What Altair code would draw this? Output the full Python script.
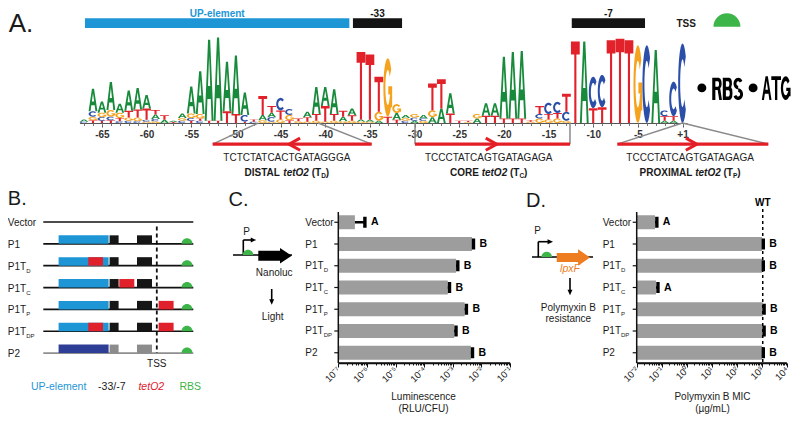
import altair as alt
import numpy as np
import pandas as pd

FONT = "Liberation Sans"
INK = "#1a1a1a"
RED = "#e0202a"
BLUE = "#1e96d6"
GREEN = "#3db549"
ORANGE = "#ee7d22"

# ============================ PANEL A : sequence logo ============================
LOGO_POSITIONS = list(range(-67, 0)) + [1]
LOGO_COLUMNS = [
    [("A", .05), ("C", .03)],
    [("A", .50), ("C", .12), ("G", .08), ("T", .06)],
    [("A", .25), ("G", .10), ("C", .08), ("T", .05)],
    [("A", .62), ("G", .15), ("C", .08), ("T", .06)],
    [("A", .20), ("G", .12), ("T", .07), ("C", .04)],
    [("A", .45), ("T", .15), ("G", .07), ("C", .05)],
    [("A", .48), ("T", .18), ("G", .08), ("C", .04)],
    [("A", .30), ("T", .25), ("C", .04), ("G", .03)],
    [("A", .10), ("T", .10), ("C", .05), ("G", .04)],
    [("T", .10), ("A", .07)],
    [("A", .03), ("T", .02)],
    [("A", .10), ("G", .06), ("C", .05)],
    [("A", .60), ("G", .10), ("C", .06), ("T", .05)],
    [("A", .95), ("G", .10), ("C", .05), ("T", .05)],
    [("A", 1.80), ("T", .05)],
    [("A", 1.85), ("T", .05)],
    [("A", 1.10), ("T", .26)],
    [("A", 1.30), ("T", .20)],
    [("A", .50), ("C", .15), ("T", .03)],
    [("T", .05), ("C", .03)],
    [("T", .42), ("A", .12), ("G", .06)],
    [("T", .15), ("C", .10), ("A", .10), ("G", .03)],
    [("C", .28), ("T", .20), ("G", .08)],
    [("C", .13), ("G", .12), ("T", .06)],
    [("T", .06), ("G", .04)],
    [("A", .12), ("T", .10), ("G", .03)],
    [("A", .60), ("T", .15), ("G", .05)],
    [("A", .42), ("T", .35), ("G", .03)],
    [("A", .55), ("T", .15), ("G", .05)],
    [("T", .13), ("A", .10), ("G", .04)],
    [("A", .15), ("T", .12), ("G", .05)],
    [("T", 1.50), ("A", .05), ("G", .03)],
    [("T", 1.45), ("A", .04), ("G", .03)],
    [("T", .78), ("G", .20), ("A", .05)],
    [("G", 1.30), ("T", .14)],
    [("G", .20), ("A", .15), ("T", .07)],
    [("A", .07), ("G", .06), ("C", .05)],
    [("G", .08), ("C", .07), ("A", .05)],
    [("A", .08), ("G", .05), ("C", .05)],
    [("T", .60), ("G", .15), ("A", .13)],
    [("T", .65), ("A", .32)],
    [("A", .45), ("T", .21)],
    [("T", .05)],
    [("T", .03), ("G", .02)],
    [("A", .10), ("G", .10)],
    [("A", .28), ("T", .16)],
    [("A", .28), ("T", .16)],
    [("A", 1.37), ("T", .10)],
    [("A", 1.48), ("T", .10)],
    [("A", 1.50), ("T", .10)],
    [("G", .03), ("T", .03)],
    [("T", .18), ("G", .10), ("C", .10)],
    [("C", .25), ("T", .12), ("G", .08)],
    [("C", .25), ("T", .12), ("G", .10)],
    [("T", .40), ("C", .20), ("G", .05)],
    [("T", 1.81)],
    [("A", 1.81)],
    [("C", .70), ("T", .33)],
    [("C", .72), ("T", .35)],
    [("T", 1.84)],
    [("T", 1.87)],
    [("T", 1.84)],
    [("G", 1.73)],
    [("C", 1.73)],
    [("A", 1.62)],
    [("C", .13), ("T", .10), ("A", .05)],
    [("C", .77), ("T", .10), ("A", .05)],
    [("C", 1.77)],
]
assert len(LOGO_COLUMNS) == len(LOGO_POSITIONS)
NUCLEOTIDES = ["A", "C", "G", "T"]
NUC_COLORS = ["#178a3b", "#2b4ea8", "#f5a31f", "#e2222a"]
LOGO_TICK_POSITIONS = [-65, -60, -55, -50, -45, -40, -35, -30, -25, -20, -15, -10, -5, 1]

# annotation tracks above the logo (in logo-slot units)
TOP_LABELS = ["UP-element", "-33", "-7"]
TOP_FROM = [0.1, 30.1, 54.6]
TOP_TO = [29.7, 35.6, 62.8]
TOP_COLORS = [BLUE, "#141414", "#141414"]

# tetO2 operators under the logo
OP_NAMES = ["DISTAL", "CORE", "PROXIMAL"]
OP_SUBS = ["D", "C", "P"]
OP_SEQS = ["TCTCTATCACTGATAGGGA", "TCCCTATCAGTGATAGAGA", "TCCCTATCAGTGATAGAGA"]
OP_FROM = [14.4, 37.05, 59.7]
OP_TO = [32.2, 54.4, 76.6]
OP_TIP = [22.95, 46.2, 68.6]
OP_DIR = ["left", "right", "right"]
OP_CENTER = [22.7, 45.3, 67.85]
OP_FOOT_FROM = [19.5, 37.05, 67.0]
OP_FOOT_TO = [26.2, 54.4, 67.0]

# "• RBS • ATG" to the right of the logo
RBS_LETTERS = ["R", "B", "S", "A", "T", "G"]
RBS_LETTER_SLOTS = [70.87, 72.05, 73.23, 76.42, 77.48, 78.55]
RBS_LETTER_W = [10.0, 10.0, 10.0, 9.4, 9.4, 9.4]
RBS_DOT_SLOTS = [69.16, 74.9]

# layout of panel A
A_X_DOMAIN = [-0.5, 67.5]
A_X_RANGE = [71.6, 679.0]
A_Y_DOMAIN = [0, 2]
A_Y_RANGE = [115, 25]
SLOT_PX = (A_X_RANGE[1] - A_X_RANGE[0]) / (A_X_DOMAIN[1] - A_X_DOMAIN[0])
BIT_PX = (A_Y_RANGE[0] - A_Y_RANGE[1]) / (A_Y_DOMAIN[1] - A_Y_DOMAIN[0])
GLYPH_W = 8.8
TRACK_Y = [2.11, 2.33]
TRACK_LABEL_Y = 2.42
RAIL_Y = -0.47
SEQ_Y = -0.785
NAME_Y = -1.10
RBS_BASE_BITS = 0.51
RBS_LETTER_H = 23.0
RBS_DOT_BITS = 0.78

BOLD_W = {"D": 722, "I": 278, "S": 667, "T": 611, "A": 722, "L": 611, " ": 278, "t": 333, "e": 556,
          "O": 778, "2": 556, "(": 333, ")": 333, "C": 722, "R": 722, "E": 667, "P": 667, "X": 667, "M": 833}
REG_W = {"P": 667, "1": 556, "T": 611}


def text_w(s, size, table):
    return sum(table.get(c, 600) for c in s) / 1000.0 * size


def ring_poly(cx, cy, ro, ri, a0, a1, n=20):
    th = np.radians(np.linspace(a0, a1, n))
    outer = [(cx + ro[0] * np.cos(t), cy + ro[1] * np.sin(t)) for t in th]
    inner = [(cx + ri[0] * np.cos(t), cy + ri[1] * np.sin(t)) for t in th[::-1]]
    return outer + inner


def rect_poly(u0, v0, u1, v1):
    return [(u0, v0), (u1, v0), (u1, v1), (u0, v1)]


# glyph outlines in a unit box (u right, v up); second item marks holes
GLYPHS = {
    "A": [([(0, 0), (0.22, 0), (0.31, 0.27), (0.69, 0.27), (0.78, 0), (1, 0), (0.62, 1), (0.38, 1)], False),
          ([(0.37, 0.43), (0.5, 0.8), (0.63, 0.43)], True)],
    "T": [([(0, 1), (0, 0.84), (0.38, 0.84), (0.38, 0), (0.62, 0), (0.62, 0.84), (1, 0.84), (1, 1)], False)],
    "C": [(ring_poly(0.5, 0.5, (0.5, 0.5), (0.27, 0.3), 42, 318), False)],
    "G": [(ring_poly(0.5, 0.5, (0.5, 0.5), (0.27, 0.3), 38, 335), False),
          (rect_poly(0.56, 0.38, 1, 0.52), False), (rect_poly(0.78, 0.16, 1, 0.52), False)],
    "R": [([(0, 0), (0, 1), (0.66, 1), (0.84, 0.95), (0.94, 0.85), (0.97, 0.72), (0.93, 0.61), (0.82, 0.53),
            (1, 0), (0.72, 0), (0.56, 0.45), (0.32, 0.45), (0.32, 0)], False),
          ([(0.32, 0.6), (0.6, 0.6), (0.68, 0.64), (0.7, 0.72), (0.68, 0.8), (0.6, 0.84), (0.32, 0.84)], True)],
    "B": [([(0, 0), (0, 1), (0.66, 1), (0.84, 0.95), (0.93, 0.85), (0.94, 0.7), (0.86, 0.57), (0.97, 0.47),
            (1, 0.3), (0.96, 0.13), (0.82, 0.03), (0.66, 0)], False),
          ([(0.32, 0.6), (0.58, 0.6), (0.66, 0.65), (0.68, 0.72), (0.66, 0.79), (0.58, 0.84), (0.32, 0.84)], True),
          ([(0.32, 0.16), (0.62, 0.16), (0.7, 0.21), (0.72, 0.3), (0.7, 0.39), (0.62, 0.44), (0.32, 0.44)], True)],
    "S": [(ring_poly(0.5, 0.74, (0.48, 0.26), (0.18, 0.1), 25, 270), False),
          (ring_poly(0.5, 0.26, (0.5, 0.26), (0.2, 0.1), -160, 90), False)],
}


def oriented(poly, ccw):
    area = 0.5 * sum(x0 * y1 - x1 * y0 for (x0, y0), (x1, y1) in zip(poly, poly[1:] + poly[:1]))
    return poly if (area > 0) == ccw else poly[::-1]


def glyph_path(letter, h_px, w_px):
    hh = h_px / (w_px / 2.0)
    parts = []
    for poly, hole in GLYPHS[letter]:
        pts = ["%.3f,%.3f" % (2 * u - 1, -v * hh) for u, v in oriented(list(poly), not hole)]
        parts.append("M" + " L".join(pts) + " Z")
    return " ".join(parts)


glyph_rows = []
for slot, col in enumerate(LOGO_COLUMNS):
    y0 = 0.0
    for letter, h in sorted(col, key=lambda t: t[1]):
        glyph_rows.append({"slot": slot, "y0": y0, "path": glyph_path(letter, h * BIT_PX, GLYPH_W),
                           "col": NUC_COLORS[NUCLEOTIDES.index(letter)]})
        y0 += h
logo_df = pd.DataFrame(glyph_rows)

xA = alt.Scale(domain=A_X_DOMAIN, range=A_X_RANGE, nice=False, zero=False)
yA = alt.Scale(domain=A_Y_DOMAIN, range=A_Y_RANGE, nice=False, zero=False)


def XA(f, axis=None):
    return alt.X(f, type="quantitative", scale=xA, axis=axis)


def YA(f, axis=None):
    return alt.Y(f, type="quantitative", scale=yA, axis=axis)


tick_slots = [LOGO_POSITIONS.index(p) for p in LOGO_TICK_POSITIONS]
last_slot = len(LOGO_POSITIONS) - 1
a_x_axis = alt.Axis(orient="bottom", offset=A_Y_RANGE[0] - 407, values=tick_slots,
                    labelExpr="datum.value == %d ? '+1' : '' + (datum.value - %d)" % (last_slot, last_slot),
                    tickSize=4, labelFontSize=10, labelFontWeight="bold", labelColor="#333", labelFont=FONT,
                    domainColor="#555", tickColor="#555", labelPadding=2, grid=False, title=None,
                    labelFlush=False, labelOverlap=False)
a_x_minor = alt.Axis(orient="bottom", offset=A_Y_RANGE[0] - 407, values=list(range(len(LOGO_POSITIONS))),
                     labels=False, domain=False, tickSize=2.5, tickColor="#777", grid=False, title=None)
a_y_axis = alt.Axis(orient="left", offset=-(A_X_RANGE[0] + 0.4), values=[0, 1, 2], format=".1f", tickSize=4,
                    labelFontSize=10, labelFontWeight="bold", labelColor="#333", labelFont=FONT,
                    domainColor="#555", tickColor="#555", grid=False, title="bits", titleFontSize=9,
                    titleFontWeight="normal", titleColor="#333", titleFont=FONT, titleX=-30, titleY=70,
                    titleAngle=270, titleAlign="center", titleBaseline="middle")

glyphs = alt.Chart(logo_df).mark_point(filled=True, opacity=1, strokeWidth=0, size=GLYPH_W ** 2).encode(
    x=XA("slot", a_x_axis), y=YA("y0", a_y_axis),
    shape=alt.Shape("path:N", scale=None), fill=alt.Fill("col:N", scale=None))
minor_a = alt.Chart(pd.DataFrame({"slot": list(range(len(LOGO_POSITIONS))), "z": 0})).mark_point(opacity=0).encode(
    x=XA("slot", a_x_minor), y=YA("z"))

top_df = pd.DataFrame({"label": TOP_LABELS, "x0": TOP_FROM, "x1": TOP_TO, "col": TOP_COLORS,
                       "y0": TRACK_Y[0], "y1": TRACK_Y[1], "ly": TRACK_LABEL_Y,
                       "cx": [(a + b) / 2 for a, b in zip(TOP_FROM, TOP_TO)]})
top_bars = alt.Chart(top_df).mark_rect().encode(
    x=XA("x0"), x2="x1:Q", y=YA("y0"), y2="y1:Q", color=alt.Color("col:N", scale=None))
top_text = alt.Chart(top_df).mark_text(font=FONT, fontSize=10, fontWeight="bold", baseline="middle").encode(
    x=XA("cx"), y=YA("ly"), text="label:N", color=alt.Color("col:N", scale=None))

TSS_SLOT, TSS_BITS = 67.4, 2.19
SEMI_SLOT, SEMI_BITS = 71.97, 2.14
SEMI_PATH = "M-1,0 A1,1 0 0 1 1,0 Z"
tss_df = pd.DataFrame({"x": [TSS_SLOT], "y": [TSS_BITS], "t": ["TSS"], "sx": [SEMI_SLOT], "sy": [SEMI_BITS]})
tss_text = alt.Chart(tss_df).mark_text(font=FONT, fontSize=10, fontWeight="bold", color=INK).encode(
    x=XA("x"), y=YA("y"), text="t:N")
tss_semi = alt.Chart(tss_df).mark_point(shape=SEMI_PATH, filled=True, opacity=1, strokeWidth=0, size=27 ** 2,
                                        color=GREEN).encode(x=XA("sx"), y=YA("sy"))

rbs_df = pd.DataFrame({"x": RBS_LETTER_SLOTS, "y": RBS_BASE_BITS,
                       "path": [glyph_path(l, RBS_LETTER_H, w) for l, w in zip(RBS_LETTERS, RBS_LETTER_W)]})
rbs_word = alt.Chart(rbs_df).mark_point(filled=True, opacity=1, strokeWidth=0, size=9.7 ** 2, color="#000").encode(
    x=XA("x"), y=YA("y"), shape=alt.Shape("path:N", scale=None))
rbs_dots = alt.Chart(pd.DataFrame({"x": RBS_DOT_SLOTS, "y": RBS_DOT_BITS})).mark_point(
    shape="circle", filled=True, opacity=1, size=80, color="#000").encode(x=XA("x"), y=YA("y"))

op_df = pd.DataFrame({"x0": OP_FROM, "x1": OP_TO, "ry": RAIL_Y, "tip": OP_TIP,
                      "path": ["M1,-0.55 L0,0 L1,0.55" if d == "left" else "M-1,-0.55 L0,0 L-1,0.55" for d in OP_DIR],
                      "c": OP_CENTER, "seq": OP_SEQS, "sy": SEQ_Y})
foot_df = pd.DataFrame({"x": OP_FROM + OP_TO, "y": RAIL_Y, "x2": OP_FOOT_FROM + OP_FOOT_TO, "y2": 0.0})
connectors = alt.Chart(foot_df).mark_rule(color="#8a8a8a", strokeWidth=1.5).encode(
    x=XA("x"), y=YA("y"), x2="x2:Q", y2="y2:Q")
rails = alt.Chart(op_df).mark_rule(color="#e41e26", strokeWidth=3.2).encode(x=XA("x0"), x2="x1:Q", y=YA("ry"))
chevrons = alt.Chart(op_df).mark_point(filled=False, opacity=1, strokeWidth=3, size=484, color="#e41e26").encode(
    x=XA("tip"), y=YA("ry"), shape=alt.Shape("path:N", scale=None))
seq_text = alt.Chart(op_df).mark_text(font=FONT, fontSize=10, color="#222").encode(
    x=XA("c"), y=YA("sy"), text="seq:N")

seg_rows = []
for name, sub, c in zip(OP_NAMES, OP_SUBS, OP_CENTER):
    segs = [(name, 10, "b"), (" ", 10, None), ("tetO2", 10, "bi"), (" ", 10, None), ("(T", 10, "b"),
            (sub, 6.5, "sub"), (")", 10, "b")]
    widths = [text_w(t, s, BOLD_W) for t, s, _ in segs]
    acc = -sum(widths) / 2.0
    for (t, s, kind), w in zip(segs, widths):
        if kind:
            seg_rows.append({"x": c + acc / SLOT_PX, "y": NAME_Y, "t": t, "kind": kind})
        acc += w
seg_df = pd.DataFrame(seg_rows)
name_b = alt.Chart(seg_df).transform_filter("datum.kind == 'b'").mark_text(
    font=FONT, fontSize=10, fontWeight="bold", align="left", color=INK).encode(x=XA("x"), y=YA("y"), text="t:N")
name_bi = alt.Chart(seg_df).transform_filter("datum.kind == 'bi'").mark_text(
    font=FONT, fontSize=10, fontWeight="bold", fontStyle="italic", align="left", color=INK).encode(
    x=XA("x"), y=YA("y"), text="t:N")
name_sub = alt.Chart(seg_df).transform_filter("datum.kind == 'sub'").mark_text(
    font=FONT, fontSize=6.5, fontWeight="bold", align="left", dy=3.5, color=INK).encode(
    x=XA("x"), y=YA("y"), text="t:N")

label_a = alt.Chart(pd.DataFrame({"x": [-7.07], "y": [2.2], "t": ["A."]})).mark_text(
    font=FONT, fontSize=26, color=INK).encode(x=XA("x"), y=YA("y"), text="t:N")

panel_a = alt.layer(glyphs, minor_a, top_bars, top_text, tss_text, tss_semi, rbs_dots, rbs_word,
                    connectors, rails, chevrons, seq_text, name_b, name_bi, name_sub, label_a
                    ).resolve_axis(x="independent")

# ============================ PANEL B : constructs ============================
B_ROWS = ["Vector", "P1", "P1T_D", "P1T_C", "P1T_P", "P1T_DP", "P2"]
B_LINE_COLORS = ["#111111"] * 6 + ["#8f8f8f"]
B_SPANS = {"UP": (15.3, 65.3), "distal": (45.0, 59.7), "m33": (66.3, 75.3), "core": (76.0, 91.0),
           "m7": (93.7, 108.7), "proximal": (115.3, 130.3), "UP2": (15.3, 65.3), "m33b": (66.3, 75.3),
           "m7b": (93.7, 108.7)}
B_COLORS = {"UP": BLUE, "distal": RED, "core": RED, "proximal": RED, "m33": "#161616", "m7": "#161616",
            "UP2": "#2e3d96", "m33b": "#8c8c8c", "m7b": "#8c8c8c"}
B_ROW_FEATURES = [
    [],
    ["UP", "m33", "m7"],
    ["UP", "distal", "m33", "m7"],
    ["UP", "m33", "core", "m7"],
    ["UP", "m33", "m7", "proximal"],
    ["UP", "distal", "m33", "m7", "proximal"],
    ["UP2", "m33b", "m7b"],
]
B_LINE_SPAN = (0, 150)
B_TSS_X = 113.5
B_TSS_SPAN = (0.21, 6.0)
B_RBS_X = 143.7
B_BOX_H = 0.39
B_LABEL_X = -35.5
B_LEGEND = ["UP-element", "-33/-7", "tetO2", "RBS"]
B_LEGEND_X = [15.3, 68.5, 108.0, 147.0]
B_LEGEND_COL = [BLUE, INK, RED, GREEN]
B_LEGEND_Y = 7.55

xB = alt.Scale(domain=[0, 150], range=[35.3, 185.3], nice=False, zero=False)
yB = alt.Scale(domain=[0, 6], range=[214, 345.1], nice=False, zero=False)


def XB(f):
    return alt.X(f, type="quantitative", scale=xB, axis=None)


def YB(f):
    return alt.Y(f, type="quantitative", scale=yB, axis=None)


box_rows = []
for r, feats in enumerate(B_ROW_FEATURES):
    for f in feats:
        box_rows.append({"x0": B_SPANS[f][0], "x1": B_SPANS[f][1], "y0": r - B_BOX_H, "y1": r, "col": B_COLORS[f]})
box_df = pd.DataFrame(box_rows)
line_df = pd.DataFrame({"r": list(range(len(B_ROWS))), "x0": B_LINE_SPAN[0], "x1": B_LINE_SPAN[1],
                        "col": B_LINE_COLORS,
                        "main": [s.split("_")[0] for s in B_ROWS],
                        "sub": [s.split("_")[1] if "_" in s else "" for s in B_ROWS],
                        "lx": B_LABEL_X, "sx": B_LABEL_X + text_w("P1T", 10, REG_W)})
b_lines = alt.Chart(line_df).mark_rule(strokeWidth=1.7).encode(
    x=XB("x0"), x2="x1:Q", y=YB("r"), color=alt.Color("col:N", scale=None))
b_boxes = alt.Chart(box_df).mark_rect().encode(
    x=XB("x0"), x2="x1:Q", y=YB("y0"), y2="y1:Q", color=alt.Color("col:N", scale=None))
b_tss = alt.Chart(pd.DataFrame({"x": [B_TSS_X], "y0": [B_TSS_SPAN[0]], "y1": [B_TSS_SPAN[1]],
                                "ty": [6.48], "t": ["TSS"]}))
b_tss_line = b_tss.mark_rule(color="#111", strokeWidth=1.8, strokeDash=[4, 3]).encode(
    x=XB("x"), y=YB("y0"), y2="y1:Q")
b_tss_text = b_tss.mark_text(font=FONT, fontSize=10, color=INK).encode(x=XB("x"), y=YB("ty"), text="t:N")
b_rbs = alt.Chart(pd.DataFrame({"x": B_RBS_X, "r": list(range(1, len(B_ROWS)))})).mark_point(
    shape=SEMI_PATH, filled=True, opacity=1, strokeWidth=0, size=121, color=GREEN).encode(x=XB("x"), y=YB("r"))
b_labels = alt.Chart(line_df).mark_text(font=FONT, fontSize=10, align="left", dy=1, color=INK).encode(
    x=XB("lx"), y=YB("r"), text="main:N")
b_subs = alt.Chart(line_df).mark_text(font=FONT, fontSize=6, align="left", dy=5, color=INK).encode(
    x=XB("sx"), y=YB("r"), text="sub:N")
leg_df = pd.DataFrame({"t": B_LEGEND, "x": B_LEGEND_X, "col": B_LEGEND_COL, "y": B_LEGEND_Y,
                       "it": [t == "tetO2" for t in B_LEGEND]})
b_leg = alt.Chart(leg_df).transform_filter("!datum.it").mark_text(font=FONT, fontSize=10.5).encode(
    x=XB("x"), y=YB("y"), text="t:N", color=alt.Color("col:N", scale=None))
b_leg_it = alt.Chart(leg_df).transform_filter("datum.it").mark_text(font=FONT, fontSize=10.5, fontStyle="italic").encode(
    x=XB("x"), y=YB("y"), text="t:N", color=alt.Color("col:N", scale=None))
label_b = alt.Chart(pd.DataFrame({"x": [-26], "y": [-1.05], "t": ["B."]})).mark_text(
    font=FONT, fontSize=20, color=INK).encode(x=XB("x"), y=YB("y"), text="t:N")
panel_b = alt.layer(b_lines, b_boxes, b_tss_line, b_tss_text, b_rbs, b_labels, b_subs, b_leg, b_leg_it, label_b)

# ============================ PANELS C & D : bar charts ============================
ROWS = ["Vector", "P1", "P1T_D", "P1T_C", "P1T_P", "P1T_DP", "P2"]
C_VALUES = [3.8e-7, 4.7e-3, 1.3e-3, 6.7e-4, 2.6e-3, 1.12e-3, 4.3e-3]
C_ERR_HI = [8.5e-7, 5.3e-3, 1.5e-3, 7.7e-4, 3.0e-3, 1.3e-3, 4.9e-3]
C_GROUPS = ["A", "B", "B", "B", "B", "B", "B"]
D_VALUES = [0.054, 1024, 1024, 0.059, 1100, 1100, 1024]
D_ERR_HI = [0.064, 1160, 1160, 0.071, 1250, 1250, 1160]
D_GROUPS = ["A", "B", "B", "A", "B", "B", "B"]
WT_MIC = 1100

BAR_Y_RANGE = [204, 355]
BAR_AXIS_OFFSET = BAR_Y_RANGE[1] - 407
BAR_GRAY = "#9d9d9d"
TICK_LEFT = "M-1,0 L0,0"
SUP_EXPR = ("'10' + (round(log(datum.value) / LN10) < 0 ? '\u207b' : '') + "
            "substring('\u2070\u00b9\u00b2\u00b3\u2074\u2075\u2076\u2077\u2078\u2079', "
            "abs(round(log(datum.value) / LN10)), abs(round(log(datum.value) / LN10)) + 1)")


def bar_panel(values, err_hi, groups, domain, rng, title, title_x, label_pad, extra=()):
    base = domain[0]
    df = pd.DataFrame({"row": ROWS, "value": values, "hi": err_hi, "grp": groups, "base": base,
                       "main": [r.split("_")[0] for r in ROWS],
                       "sub": [r.split("_")[1] if "_" in r else "" for r in ROWS]})
    xs = alt.Scale(type="log", domain=domain, range=rng, nice=False)
    ys = alt.Scale(domain=ROWS, range=BAR_Y_RANGE, paddingInner=0.357, paddingOuter=0.15)
    k0, k1 = int(round(np.log10(domain[0]))), int(round(np.log10(domain[1])))
    majors = [10.0 ** k for k in range(k0, k1 + 1)]
    minors = [m * 10.0 ** k for k in range(k0, k1) for m in range(2, 10)]
    x_axis = alt.Axis(orient="bottom", offset=BAR_AXIS_OFFSET, values=majors, labelExpr=SUP_EXPR,
                      labelAngle=315, labelAlign="right", labelBaseline="middle", labelFontSize=9.5,
                      labelFont=FONT, labelPadding=1, tickSize=4, tickColor="#111", domainColor="#111",
                      domainWidth=1.5, labelColor=INK, title=title, titleX=title_x, titleY=28,
                      titleBaseline="top", titleAlign="center", titleFontSize=10, titleFontWeight="normal",
                      titleFont=FONT, titleLineHeight=12.5, titleColor=INK, labelFlush=False,
                      labelOverlap=False, grid=False)
    x_minor = alt.Axis(orient="bottom", offset=BAR_AXIS_OFFSET, values=minors, labels=False, domain=False,
                       tickSize=2, tickColor="#111", grid=False, title=None)

    def X(f, axis=None):
        return alt.X(f, type="quantitative", scale=xs, axis=axis)

    def Y(f):
        return alt.Y(f, type="nominal", scale=ys, axis=None)

    base_chart = alt.Chart(df)
    bars = base_chart.mark_bar(color=BAR_GRAY).encode(x=X("value", x_axis), x2="base:Q", y=Y("row"))
    err = base_chart.mark_rule(color="#000", strokeWidth=2.5).encode(x=X("value"), x2="hi:Q", y=Y("row"))
    caps = base_chart.mark_tick(color="#000", thickness=3.4, size=11, opacity=1).encode(x=X("hi"), y=Y("row"))
    letters = base_chart.mark_text(font=FONT, fontSize=10.5, fontWeight="bold", align="left", dx=6,
                                   color="#000").encode(x=X("hi"), y=Y("row"), text="grp:N")
    labels = base_chart.mark_text(font=FONT, fontSize=10, align="left", dx=-(4 + label_pad), dy=0.5,
                                  color=INK).encode(x=X("base"), y=Y("row"), text="main:N")
    subs = base_chart.mark_text(font=FONT, fontSize=6, align="left", dy=4.5,
                                dx=-(4 + label_pad) + text_w("P1T", 10, REG_W), color=INK).encode(
        x=X("base"), y=Y("row"), text="sub:N")
    yticks = base_chart.mark_point(shape=TICK_LEFT, filled=False, opacity=1, size=64, strokeWidth=1.2,
                                   color="#111").encode(x=X("base"), y=Y("row"))
    edge = alt.Chart(pd.DataFrame({"b": [domain[0]], "e": [domain[1]]}))
    ydomain = edge.mark_rule(color="#111", strokeWidth=1.5).encode(
        x=X("b"), y=alt.value(BAR_Y_RANGE[0]), y2=alt.value(BAR_Y_RANGE[1]))
    xdomain = edge.mark_rule(color="#111", strokeWidth=1.5).encode(x=X("b"), x2="e:Q", y=alt.value(BAR_Y_RANGE[1]))
    minor = base_chart.mark_point(opacity=0).encode(x=X("value", x_minor))
    layers = [bars, err, caps, letters, labels, subs, yticks, ydomain, xdomain, minor]
    for make in extra:
        layers.append(make(X))
    return alt.layer(*layers).resolve_axis(x="independent")


def wt_rule(X):
    return alt.Chart(pd.DataFrame({"wt": [WT_MIC]})).mark_rule(
        color="#000", strokeWidth=1.5, strokeDash=[3, 3]).encode(
        x=X("wt"), y=alt.value(201), y2=alt.value(BAR_Y_RANGE[1]))


def wt_text(X):
    return alt.Chart(pd.DataFrame({"wt": [WT_MIC], "t": ["WT"]})).mark_text(
        font=FONT, fontSize=10, fontWeight="bold", color="#000").encode(
        x=X("wt"), y=alt.value(195), text="t:N")


panel_c = bar_panel(C_VALUES, C_ERR_HI, C_GROUPS, [1e-7, 1e-1], [330.3, 502.0],
                    ["Luminescence", "(RLU/CFU)"], 415, 29)
panel_d = bar_panel(D_VALUES, D_ERR_HI, D_GROUPS, [1e-2, 1e4], [628.7, 778.7],
                    ["Polymyxin B MIC", "(\u00b5g/mL)"], 704, 30, extra=(wt_rule, wt_text))

# ============================ insets of C & D (reporter schematics) ============================
BLOCK_ARROW = "M-1,-0.3 L0.3,-0.3 L0.3,-0.46 L1,0 L0.3,0.46 L0.3,0.3 L-1,0.3 Z"
BLOCK_ARROW_D = "M-1,-0.27 L0.28,-0.27 L0.28,-0.5 L1,0 L0.28,0.5 L0.28,0.27 L-1,0.27 Z"
HEAD_RIGHT = "M-1,-0.9 L1,0 L-1,0.9 Z"
HEAD_DOWN = "M-0.9,-1 L0.9,-1 L0,1 Z"

INSETS = {
    "C": dict(origin=(225, 247),
              rules=[(0, 0, 59, 0), (10.3, 0, 10.3, -15), (10.3, -15, 19, -15), (38.7, 34, 38.7, 45)],
              head_right=(20.5, -15), head_down=(38.7, 47), semi=(15, 0),
              arrow=(42, 0.8), arrow_len=33.4, arrow_col="#000", arrow_path=BLOCK_ARROW,
              texts=[("P", 13.7, -23.3), ("Nanoluc", 41.2, 17.7), ("Light", 39.7, 61.7)],
              italic=[], label=("C.", 5.5, -55)),
    "D": dict(origin=(524, 249),
              rules=[(0, 0, 61, 0), (6.3, 0, 6.3, -15.3), (6.3, -15.3, 16.5, -15.3), (38, 21, 38, 33)],
              head_right=(18.3, -15.3), head_down=(38, 35.5), semi=(14.7, 0),
              arrow=(41.4, 0.5), arrow_len=33.3, arrow_col=ORANGE, arrow_path=BLOCK_ARROW_D,
              texts=[("P", 5.5, -26), ("Polymyxin B", 36.3, 50.7), ("resistance", 36.3, 62.3)],
              italic=[("lpxF", 38, 12.3)], label=("D.", 4, -56)),
}


def inset(spec):
    ox, oy = spec["origin"]
    xs = alt.Scale(domain=[0, 60], range=[ox, ox + 60], nice=False, zero=False)
    ys = alt.Scale(domain=[0, 60], range=[oy, oy + 60], nice=False, zero=False)

    def X(f):
        return alt.X(f, type="quantitative", scale=xs, axis=None)

    def Y(f):
        return alt.Y(f, type="quantitative", scale=ys, axis=None)

    rd = pd.DataFrame(spec["rules"], columns=["x", "y", "x2", "y2"])
    rules = alt.Chart(rd).mark_rule(color="#000", strokeWidth=1.6).encode(x=X("x"), y=Y("y"), x2="x2:Q", y2="y2:Q")
    hd = pd.DataFrame({"x": [spec["head_right"][0], spec["head_down"][0]],
                       "y": [spec["head_right"][1], spec["head_down"][1]],
                       "p": [HEAD_RIGHT, HEAD_DOWN]})
    heads = alt.Chart(hd).mark_point(filled=True, opacity=1, strokeWidth=0, size=30, color="#000").encode(
        x=X("x"), y=Y("y"), shape=alt.Shape("p:N", scale=None))
    semi = alt.Chart(pd.DataFrame({"x": [spec["semi"][0]], "y": [spec["semi"][1]]})).mark_point(
        shape=SEMI_PATH, filled=True, opacity=1, strokeWidth=0, size=112, color=GREEN).encode(x=X("x"), y=Y("y"))
    arrow = alt.Chart(pd.DataFrame({"x": [spec["arrow"][0]], "y": [spec["arrow"][1]]})).mark_point(
        shape=spec["arrow_path"], filled=True, opacity=1, strokeWidth=0, size=spec["arrow_len"] ** 2,
        color=spec["arrow_col"]).encode(x=X("x"), y=Y("y"))
    td = pd.DataFrame(spec["texts"], columns=["t", "x", "y"])
    texts = alt.Chart(td).mark_text(font=FONT, fontSize=10, color=INK).encode(x=X("x"), y=Y("y"), text="t:N")
    layers = [rules, heads, semi, arrow, texts]
    if spec["italic"]:
        idf = pd.DataFrame(spec["italic"], columns=["t", "x", "y"])
        layers.append(alt.Chart(idf).mark_text(font=FONT, fontSize=10.5, fontStyle="italic", color=ORANGE).encode(
            x=X("x"), y=Y("y"), text="t:N"))
    lab = pd.DataFrame([spec["label"]], columns=["t", "x", "y"])
    layers.append(alt.Chart(lab).mark_text(font=FONT, fontSize=20, color=INK).encode(x=X("x"), y=Y("y"), text="t:N"))
    return alt.layer(*layers)


inset_c = inset(INSETS["C"])
inset_d = inset(INSETS["D"])

chart = alt.layer(panel_a, panel_b, panel_c, panel_d, inset_c, inset_d).resolve_scale(
    x="independent", y="independent").properties(
    width=784, height=407, padding=0, autosize=alt.AutoSizeParams(type="none"), background="white"
).configure_view(strokeWidth=0).configure_axis(grid=False)

chart.save("out.html", embed_options={"renderer": "svg", "actions": False})
